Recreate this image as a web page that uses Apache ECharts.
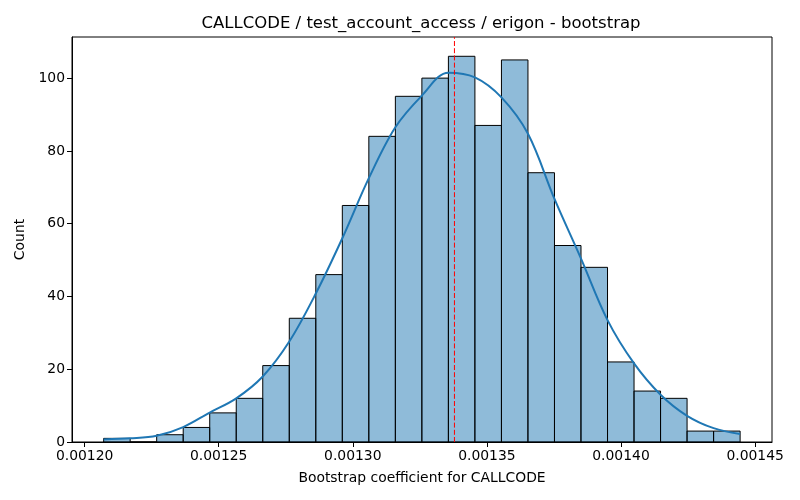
<!DOCTYPE html>
<html>
<head>
<meta charset="utf-8">
<script src="https://cdn.jsdelivr.net/npm/echarts@6/dist/echarts.min.js"></script>
<style>
  html, body { margin: 0; padding: 0; background: #fff; }
  #view { width: 800px; height: 500px; }
</style>
</head>
<body>
<div id="view"></div>
<script>
var myChart = echarts.init(document.getElementById('view'));

// histogram bins (24 bins)
var binStart = 0.0012071;
var binWidth = 0.000009888;
var binCounts = [1, 0, 2, 4, 8, 12, 21, 34, 46, 65, 84, 95, 100, 106, 87, 105, 74, 54, 48, 22, 14, 12, 3, 3];

// kde curve read at each bin edge (25 points)
var kdeCounts = [0.7, 1.0, 1.7, 4.1, 8.1, 12.0, 18.0, 27.6, 40.8, 56.0, 72.5, 86.5, 95.2, 101.5, 100.2, 94.7, 84.7, 66.8, 50.4, 33.5, 21.6, 13.0, 7.2, 3.8, 2.2];

var meanValue = 0.0013379;
var yTop = 111.3;

var xTicks = [0.00120, 0.00125, 0.00130, 0.00135, 0.00140, 0.00145];
var yTicks = [0, 20, 40, 60, 80, 100];

var edges = [];
for (var i = 0; i <= binCounts.length; i++) {
    edges.push(binStart + i * binWidth);
}

var barData = [];
for (var j = 0; j < binCounts.length; j++) {
    barData.push([edges[j], edges[j + 1], binCounts[j]]);
}

var kdeData = [];
for (var k = 0; k < kdeCounts.length; k++) {
    kdeData.push([edges[k], kdeCounts[k]]);
}

var font = 'DejaVu Sans';

var option = {
    animation: false,
    textStyle: { fontFamily: font },
    graphic: [{
        type: 'text',
        x: 421,
        y: 24,
        style: {
            text: 'CALLCODE / test_account_access / erigon - bootstrap',
            font: '16.5px DejaVu Sans',
            fill: '#000',
            align: 'center',
            verticalAlign: 'middle'
        }
    }],
    grid: {
        left: 72,
        right: 28,
        top: 37,
        bottom: 58,
        show: true,
        borderColor: '#000',
        borderWidth: 1,
        backgroundColor: '#fff'
    },
    xAxis: {
        type: 'value',
        min: 0.0011953,
        max: 0.0014563,
        name: 'Bootstrap coefficient for CALLCODE',
        nameLocation: 'middle',
        nameGap: 29,
        nameTextStyle: { fontSize: 13.9, color: '#000', fontFamily: font },
        axisLine: { show: true, onZero: false, lineStyle: { color: '#000', width: 1 } },
        axisTick: { show: true, length: 5, customValues: xTicks, lineStyle: { color: '#000' } },
        axisLabel: {
            customValues: xTicks,
            fontSize: 13.9,
            color: '#000',
            margin: 7,
            formatter: function (v) { return v.toFixed(5); }
        },
        splitLine: { show: false }
    },
    yAxis: {
        type: 'value',
        min: 0,
        max: yTop,
        name: 'Count',
        nameLocation: 'middle',
        nameGap: 44,
        nameTextStyle: { fontSize: 13.9, color: '#000', fontFamily: font },
        axisLine: { show: true, lineStyle: { color: '#000', width: 1 } },
        axisTick: { show: true, length: 5, customValues: yTicks, lineStyle: { color: '#000' } },
        axisLabel: { customValues: yTicks, fontSize: 13.9, color: '#000', margin: 7 },
        splitLine: { show: false }
    },
    series: [
        {
            type: 'custom',
            name: 'hist',
            data: barData,
            encode: { x: [0, 1], y: 2 },
            z: 2,
            renderItem: function (params, api) {
                var top = api.coord([api.value(0), api.value(2)]);
                var bottom = api.coord([api.value(1), 0]);
                return {
                    type: 'rect',
                    shape: {
                        x: top[0],
                        y: top[1],
                        width: bottom[0] - top[0],
                        height: bottom[1] - top[1]
                    },
                    style: {
                        fill: 'rgba(31,119,180,0.5)',
                        stroke: '#000',
                        lineWidth: 1
                    }
                };
            }
        },
        {
            type: 'line',
            name: 'kde',
            data: kdeData,
            smooth: 0.35,
            showSymbol: false,
            z: 3,
            lineStyle: { color: '#1f77b4', width: 2 }
        },
        {
            type: 'line',
            name: 'mean',
            data: [[meanValue, 0], [meanValue, yTop]],
            showSymbol: false,
            z: 4,
            lineStyle: { color: '#ff0000', type: [5, 2.2], width: 1 }
        }
    ]
};

myChart.setOption(option);
</script>
</body>
</html>
